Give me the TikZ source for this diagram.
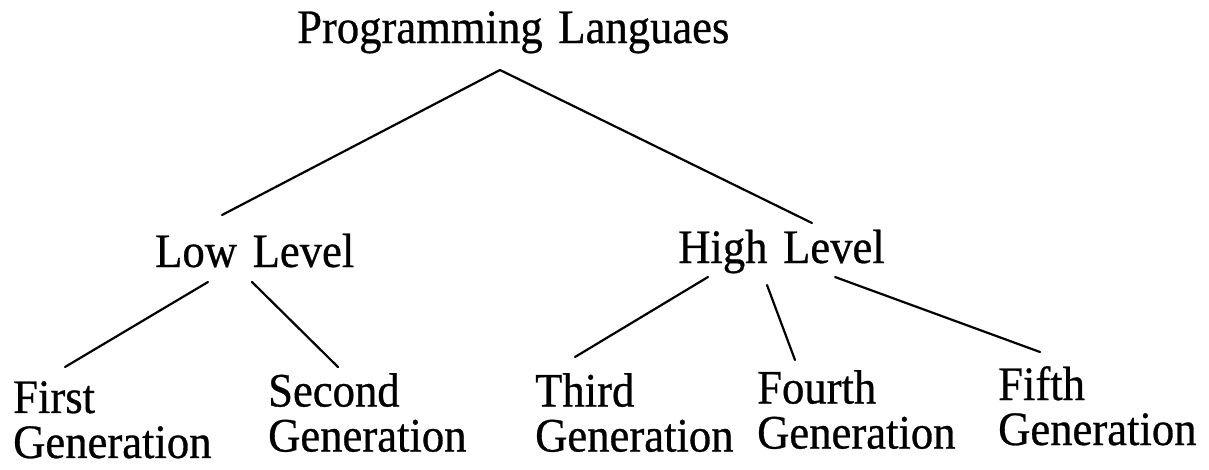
\documentclass[tikz,border=0pt]{standalone}
\usepackage{fontspec}
\setmainfont[FakeStretch=0.93,FakeBold=0.6,WordSpace=1.4]{Liberation Serif}
\usetikzlibrary{calc}
\tikzset{
	term/.style={inner sep=0pt, align=left, font=\fontsize{48}{45}\selectfont},
	branch/.style={line width=2.2pt, line cap=round}
}

\begin{document}
\begin{tikzpicture}[x=1pt, y=-1pt]
		%%%%% START %%%%%
		\useasboundingbox (0, 0) rectangle (1209, 469);
		
		\node[term, anchor=base west] (lang) at (297, 43) {Programming Languaes};
		
		\node[term, anchor=base west] (low) at (155, 267) {Low Level};
		\node[term, anchor=base west] (high) at (678, 263) {High Level};
		
		\node[term, anchor=north west] (first) at (13, 381) {First\\Generation};
		\node[term, anchor=north west] (second) at (268, 373) {Second\\Generation};
		\node[term, anchor=north west] (third) at (535, 373) {Third\\Generation};
		\node[term, anchor=north west] (fourth) at (757, 370) {Fourth\\Generation};
		\node[term, anchor=north west] (fifth) at (998, 366) {Fifth\\Generation};
		
		\draw[branch] ($(low.base west)+(67, -52)$) -- ($(lang.base west)+(203, 27)$) -- ($(high.base west)+(134, -40)$);
		
		\draw[branch] ($(low.base west)+(53, 15)$) -- ($(first.north west)+(52, -14)$);
		\draw[branch] ($(low.base west)+(97, 15)$) -- ($(second.north west)+(70, -6)$);
		
		\draw[branch] ($(high.base west)+(30, 14)$) -- ($(third.north west)+(40, -16)$);
		\draw[branch] ($(high.base west)+(89, 22)$) -- ($(fourth.north west)+(38, -10)$);
		\draw[branch] ($(high.base west)+(157, 14)$) -- ($(fifth.north west)+(42, -14)$);
		
		%%%%% END %%%%%
	\end{tikzpicture}
\end{document}
